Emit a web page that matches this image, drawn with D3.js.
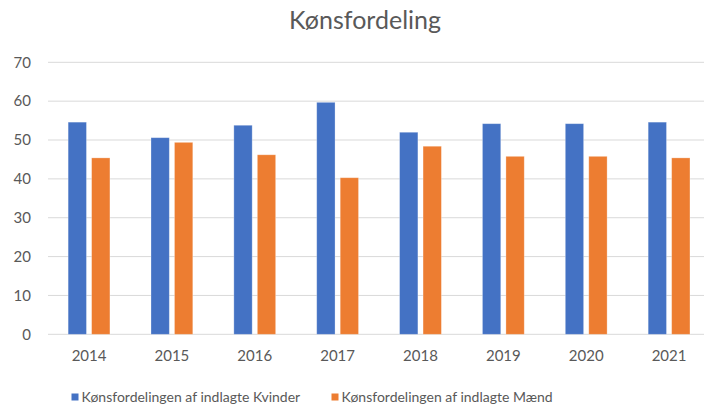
<!DOCTYPE html>
<html>
<head>
<meta charset="utf-8">
<script src="https://cdn.jsdelivr.net/npm/d3@7"></script>
<style>
  html, body { margin: 0; padding: 0; background: #fff; }
  svg { display: block; font-family: Lato, "Open Sans", sans-serif; }
</style>
</head>
<body>
<svg id="chart" width="704" height="409"></svg>
<script>
const years = ['2014', '2015', '2016', '2017', '2018', '2019', '2020', '2021'];
const kvinder = [54.6, 50.6, 53.8, 59.7, 52.0, 54.2, 54.2, 54.6];
const maend = [45.4, 49.4, 46.2, 40.3, 48.4, 45.8, 45.8, 45.4];
const seriesNames = ['Kønsfordelingen af indlagte Kvinder', 'Kønsfordelingen af indlagte Mænd'];
const seriesColors = ['#4472C4', '#ED7D31'];
const yTicks = [0, 10, 20, 30, 40, 50, 60, 70];

const svg = d3.select('#chart');
const textColor = '#595959';

const x = d3.scaleBand().domain(years).range([47.6, 710.5]).paddingInner(0).paddingOuter(0);
const inner = d3.scaleBand().domain([0, 1]).range([-20.9, 20.9]).paddingInner(0.22);
const y = d3.scaleLinear().domain([0, 70]).range([334.3, 62.3]);

// title
svg.append('text')
  .attr('x', 365)
  .attr('y', 29)
  .attr('text-anchor', 'middle')
  .attr('fill', textColor)
  .attr('font-size', 25)
  .text('Kønsfordeling');

// gridlines
svg.append('g')
  .selectAll('line')
  .data(yTicks)
  .join('line')
  .attr('x1', 48)
  .attr('x2', 704)
  .attr('y1', (d) => y(d))
  .attr('y2', (d) => y(d))
  .attr('stroke', '#D9D9D9')
  .attr('stroke-width', 1);

// y tick labels
svg.append('g')
  .selectAll('text')
  .data(yTicks)
  .join('text')
  .attr('x', 31)
  .attr('y', (d) => y(d))
  .attr('dy', '0.35em')
  .attr('text-anchor', 'end')
  .attr('fill', textColor)
  .attr('font-size', 15)
  .text((d) => d);

// bars
const rows = years.map((yr, i) => ({ year: yr, values: [kvinder[i], maend[i]] }));
const groups = svg.append('g')
  .selectAll('g')
  .data(rows)
  .join('g')
  .attr('transform', (d) => `translate(${x(d.year) + x.bandwidth() / 2},0)`);

groups.selectAll('rect')
  .data((d) => d.values.map((v, k) => ({ k, v })))
  .join('rect')
  .attr('x', (d) => inner(d.k))
  .attr('width', inner.bandwidth())
  .attr('y', (d) => y(d.v))
  .attr('height', (d) => y(0) - y(d.v))
  .attr('fill', (d) => seriesColors[d.k])
  .attr('stroke', '#fff')
  .attr('stroke-opacity', 0.35)
  .attr('stroke-width', 0.8);

// x labels
svg.append('g')
  .selectAll('text')
  .data(years)
  .join('text')
  .attr('x', (d) => x(d) + x.bandwidth() / 2)
  .attr('y', 356)
  .attr('dy', '0.35em')
  .attr('text-anchor', 'middle')
  .attr('fill', textColor)
  .attr('font-size', 15)
  .text((d) => d);

// legend
const legendX = [71.5, 331.5];
const legend = svg.append('g')
  .selectAll('g')
  .data(seriesNames)
  .join('g')
  .attr('transform', (d, i) => `translate(${legendX[i]},397)`);

legend.append('rect')
  .attr('x', 0)
  .attr('y', -3.5)
  .attr('width', 7)
  .attr('height', 7)
  .attr('fill', (d, i) => seriesColors[i]);

legend.append('text')
  .attr('x', 10)
  .attr('y', 0)
  .attr('dy', '0.35em')
  .attr('fill', textColor)
  .attr('font-size', 14)
  .text((d) => d);
</script>
</body>
</html>
